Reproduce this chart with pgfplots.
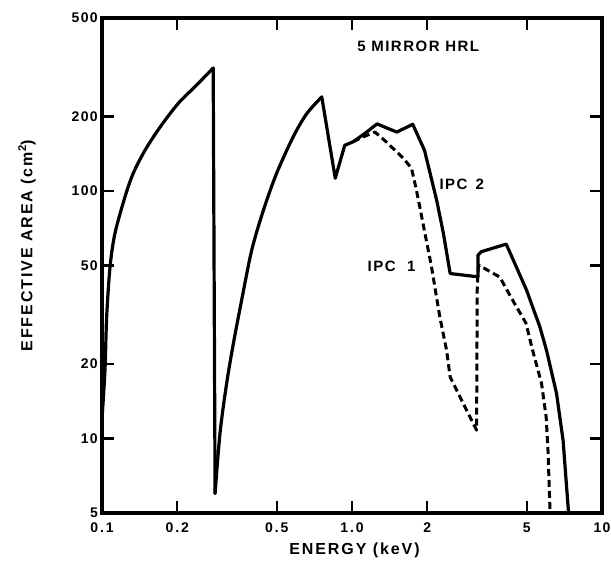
\documentclass[border=0pt]{standalone}
\usepackage{fontspec}
\setmainfont{Liberation Sans}
\usepackage{pgfplots}
\pgfplotsset{compat=1.18}

\newcommand{\lbl}{\bfseries\fontsize{14}{14}\selectfont\addfontfeature{LetterSpace=10}}
\newcommand{\axlbl}{\bfseries\fontsize{16}{16}\selectfont\addfontfeature{LetterSpace=12}}

\begin{document}
\begin{tikzpicture}
\begin{axis}[
  scale only axis, width=500pt, height=495pt,
  xmode=log, ymode=log,
  xmin=0.1, xmax=10, ymin=5, ymax=500,
  axis line style={line width=3.8pt},
  tick align=inside,
  tick pos=both,
  major tick length=12pt,
  every major tick/.append style={line width=2.4pt, black},
  xtick={0.1,0.2,0.5,1,2,5,10},
  xticklabels={0\kern2pt.\kern2pt1, 0\kern2pt.\kern2pt2, 0\kern2pt.\kern2pt5,
               1\kern2pt.\kern2pt0, 2, 5, 10},
  ytick={5,10,20,50,100,200,500},
  yticklabels={5,10,20,50,100,200,500},
  xticklabel style={font=\lbl, anchor=center, yshift=-15pt},
  yticklabel style={font=\lbl, anchor=east, inner sep=0pt, xshift=-4pt},
  xlabel={ENERGY (keV)},
  ylabel={EFFECTIVE AREA (cm\textsuperscript{2})},
  xlabel style={font=\axlbl, at={(axis description cs:0.505,0)}, anchor=center, yshift=-37pt},
  ylabel style={font=\axlbl, at={(axis description cs:0,0.54)}, anchor=center, yshift=75pt},
  clip=false,
]
% IPC 2 (solid): first arc, drop, second arc, then the rest
\addplot[black, line width=3.2pt, line cap=round, smooth] coordinates {
  (0.1,12) (0.1028,18.9) (0.1044,31.1) (0.1077,49.4) (0.1127,67.5)
  (0.1236,94.7) (0.1334,118) (0.1486,146) (0.1706,181) (0.2019,226)
  (0.2356,264) (0.2785,314)
};
\addplot[black, line width=3.2pt, line cap=round, line join=round] coordinates {
  (0.2785,314) (0.2834,6.0)
};
\addplot[black, line width=3.2pt, line cap=round, smooth] coordinates {
  (0.2834,6.0) (0.2965,10.5) (0.3152,16.7) (0.3354,24.2) (0.3621,36.3) (0.3972,57.7)
  (0.4424,83.7) (0.4996,118) (0.5818,165.5) (0.6585,205) (0.757,240)
};
\addplot[black, line width=3.2pt, line cap=round, line join=round] coordinates {
  (0.757,240) (0.857,112.6)
  (0.9355,153) (1.01,158) (1.127,171) (1.26,186.7) (1.51,173) (1.75,186)
  (1.95,146) (2.18,92) (2.32,67.5) (2.47,46.4)
  (3.19,45) (3.19,55) (3.3,56.9) (4.14,61)
  (4.99,39.8) (5.64,28.3) (6.0,22.7) (6.58,15.2) (6.99,9.8) (7.35,5)
};
% IPC 1 (dashed)
\addplot[black, line width=3pt, dash pattern=on 7pt off 4pt, line join=round] coordinates {
  (1.01,158) (1.11,165.5) (1.236,173) (1.37,158) (1.60,136) (1.73,123.6)
  (1.81,101) (1.9,78.8) (2.08,49.4) (2.245,31.0) (2.39,22.7) (2.47,17.7)
  (3.15,10.8) (3.17,41.1) (3.2,49) (3.23,50)
  (3.9,44.9) (4.44,35.5) (4.96,29.3) (5.28,22.7) (5.73,16.7) (5.98,12.2)
  (6.08,9.0) (6.2,5)
};
\node[font=\bfseries\fontsize{15}{15}\selectfont\addfontfeature{LetterSpace=10}] at (axis cs:1.84,385) {5 MIRROR HRL};
\node[font=\bfseries\fontsize{15}{15}\selectfont\addfontfeature{LetterSpace=10}] at (axis cs:2.75,106) {IPC\ \,2};
\node[font=\bfseries\fontsize{15}{15}\selectfont\addfontfeature{LetterSpace=10}] at (axis cs:1.44,49.7) {IPC\ \ 1};
\end{axis}
\pgfresetboundingbox
\path (-102pt,-54pt) rectangle (509pt,513pt);
\end{tikzpicture}
\end{document}
